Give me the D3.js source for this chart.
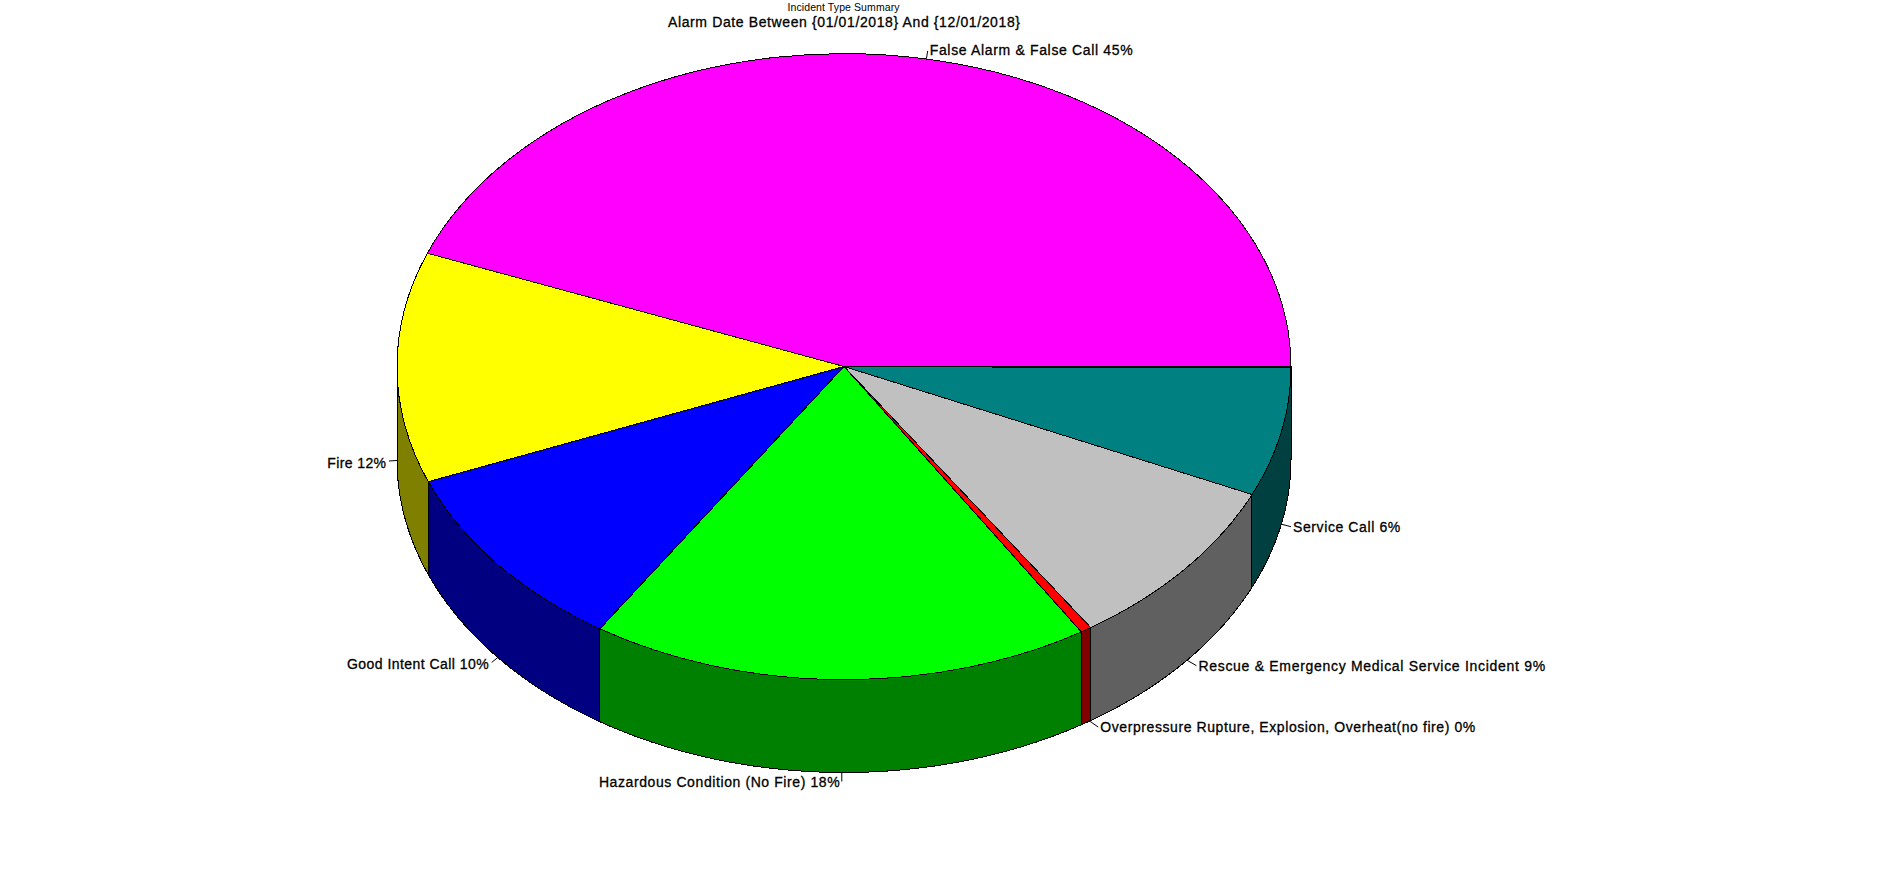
<!DOCTYPE html>
<html>
<head>
<meta charset="utf-8">
<script src="https://cdn.jsdelivr.net/npm/d3@7"></script>
<style>
html,body{margin:0;padding:0;background:#fff;overflow:hidden}
svg{display:block}
text{font-family:"Liberation Sans",Arial,sans-serif;fill:#000;stroke:#000;stroke-width:.3px}
</style>
</head>
<body>
<svg id="c" width="1893" height="888"></svg>
<script>
const chartTitle = "Incident Type Summary";
const chartSubtitle = "Alarm Date Between {01/01/2018} And {12/01/2018}";
const categories = ["Service Call","Rescue & Emergency Medical Service Incident","Overpressure Rupture, Explosion, Overheat(no fire)","Hazardous Condition (No Fire)","Good Intent Call","Fire","False Alarm & False Call"];
const shares = [6.7,9.0,0.4,18.1,9.8,11.9,44.1];
const percentLabels = [6,9,0,18,10,12,45];
const colors = ["#008080","#c0c0c0","#ff0000","#00ff00","#0000ff","#ffff00","#ff00ff"];
const labelWidths = [107.3,346.7,375,240.7,141.7,58.7,203];

const W=1893,H=888,cx=844,cy=366.5,rx=447,ry=313,depth=93;
const svg=d3.select("#c");
const pie=d3.pie().sort(null).startAngle(Math.PI/2).endAngle(Math.PI/2+2*Math.PI);
const slices=pie(shares).map((s,i)=>({...s,i}));
const px=a=>cx+rx*Math.sin(a), py=a=>cy-ry*Math.cos(a);
const dark=c=>{const r=d3.rgb(c);return d3.rgb(Math.ceil(r.r/2),Math.ceil(r.g/2),Math.ceil(r.b/2)).formatHex();};
const line=d3.line();

// side wall (front half only: d3 angles PI/2..3PI/2)
const frontLo=Math.PI/2,frontHi=3*Math.PI/2;
const walls=slices.filter(s=>s.startAngle<frontHi);
svg.append("g").selectAll("path").data(walls).join("path")
 .attr("d",s=>{
   const a0=Math.max(s.startAngle,frontLo),a1=Math.min(s.endAngle,frontHi);
   const as=d3.range(0,61).map(k=>a0+(a1-a0)*k/60);
   const top=as.map(a=>[px(a),py(a)]);
   const bot=as.slice().reverse().map(a=>[px(a),py(a)+depth]);
   return line(top.concat(bot))+"Z";
 })
 .attr("fill",s=>dark(colors[s.i])).attr("stroke","#000").attr("stroke-width",1)
 .attr("stroke-linejoin","round").attr("shape-rendering","crispEdges");

// top face
const arc=d3.arc().innerRadius(0).outerRadius(1);
svg.append("g").attr("transform",`translate(${cx},${cy}) scale(${rx},${ry})`)
 .selectAll("path").data(slices).join("path")
 .attr("d",arc).attr("fill",s=>colors[s.i]).attr("stroke","#000")
 .attr("stroke-width",1).attr("vector-effect","non-scaling-stroke")
 .attr("shape-rendering","crispEdges");

// heavier outer part of the first slice boundary
svg.append("path")
 .attr("d",line([[cx+rx*0.33,cy],[cx+rx,cy]]))
 .attr("stroke","#000").attr("stroke-width",2).attr("shape-rendering","crispEdges");

// labels with leader lines
const lab=svg.append("g");
slices.forEach(s=>{
  const m=(s.startAngle+s.endAngle)/2;
  const sx=Math.sin(m),sy=-Math.cos(m);   // screen direction of the mid angle
  const front=sy>0;
  const x0=px(m),y0=py(m)+(front?depth:0);
  const near=Math.abs(sx)<0.25;
  const right=sx>=0.05;
  let ax,ay,lead;
  if(near){
    ax=x0+sx*18; ay=y0+(front?9.4:-9);
    lead=front?[[x0+2,y0],[x0+2,y0+9]]:[[x0,y0],[ax-2,y0-8]];
  }else if(right){
    ax=x0+11+4*sy; ay=y0+1+4*sy;
    lead=[[x0+sy*3,y0-sy*3],[ax-2,ay]];
  }else{
    ax=x0-11+3*sy; ay=y0+2+7*sy;
    lead=[[x0,y0],[ax-(-3),ay-1.5]];
  }
  lab.append("path").attr("d",line(lead))
    .attr("fill","none").attr("stroke","#000").attr("stroke-width",1);
  lab.append("text")
    .attr("x",ax).attr("y",ay+5)
    .attr("text-anchor",right?"start":"end")
    .attr("font-size",14)
    .attr("textLength",labelWidths[s.i]).attr("lengthAdjust","spacing")
    .text(`${categories[s.i]} ${percentLabels[s.i]}%`);
});

svg.append("text").attr("x",843.5).attr("y",11).attr("text-anchor","middle")
 .attr("font-size",10.5).attr("textLength",112).style("stroke-width",0).text(chartTitle);
svg.append("text").attr("x",844).attr("y",27).attr("text-anchor","middle")
 .attr("font-size",14).attr("textLength",352).text(chartSubtitle);
</script>
</body>
</html>
